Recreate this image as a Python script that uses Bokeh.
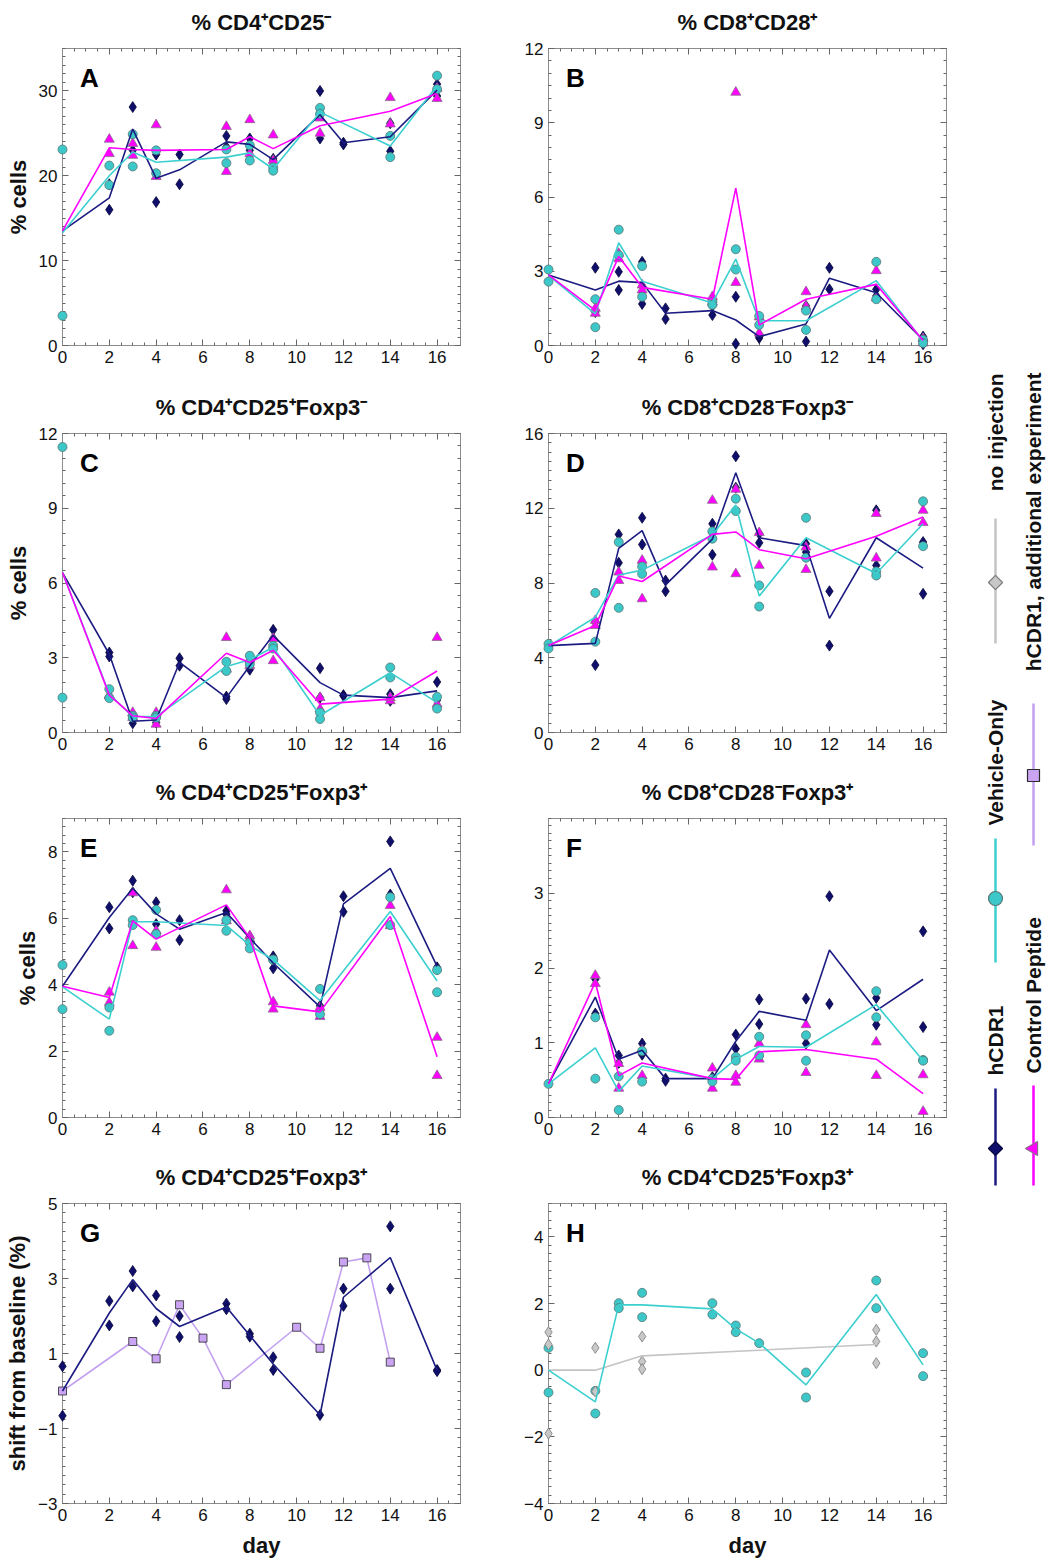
from math import pi
from bokeh.plotting import figure
from bokeh.models import Range1d, LinearAxis, FixedTicker, Label
from bokeh.layouts import row, column
from bokeh.embed import file_html
from bokeh.resources import INLINE
from bokeh.core.properties import value

N = None
DAY_TICKS = [0, 2, 4, 6, 8, 10, 12, 14, 16]
DAYS_H = [0, 2, 3, 4, 5, 7, 8, 9, 11, 12, 14, 16]   # hCDR1 sampling days
DAYS_CV = [0, 2, 3, 4, 7, 8, 9, 11, 14, 16]         # Control Peptide / Vehicle days

# ---------------- Panel A: % CD4+CD25- ----------------
A_h_r1 = [N, 16.0, 28.1, 22.5, 22.5, 24.7, 24.4, 22.0, 30.0, 23.9, 26.2, 30.8]
A_h_r2 = [N, 19.0, 23.0, 16.9, 19.0, 23.4, 23.0, 21.8, 24.4, 23.7, 22.9, 29.4]
A_h_mean = [13.5, 17.4, 25.5, 19.7, 20.7, 24.0, 23.7, 21.9, 27.2, 23.9, 24.6, 30.1]
A_c_r1 = [N, 24.3, 23.8, 26.0, 25.8, 26.6, 24.8, 25.0, 29.2, 29.1]
A_c_r2 = [N, 22.6, 22.4, 19.9, 20.5, 22.6, 21.8, 26.8, 26.1, 30.3]
A_c_mean = [13.5, 23.3, 23.1, 23.0, 23.1, 24.6, 23.2, 25.9, 27.6, 29.7]
A_v_r1 = [23.1, 21.2, 24.9, 23.0, 23.1, 23.6, 21.0, 28.0, 24.7, 31.8]
A_v_r2 = [3.5, 18.9, 21.1, 20.3, 21.5, 21.8, 20.6, 27.3, 22.2, 30.2]
A_v_mean = [13.3, 20.0, 22.8, 21.6, 22.2, 22.7, 20.8, 27.5, 23.5, 30.6]

# ---------------- Panel B: % CD8+CD28+ ----------------
B_h_r1 = [N, 3.14, 2.98, 3.38, 1.50, 1.23, 1.97, 0.30, 0.16, 3.14, 2.27, 0.36]
B_h_r2 = [N, 1.35, 2.24, 1.68, 1.07, 1.60, 0.07, 0.36, 1.60, 2.27, 2.00, 0.05]
B_h_mean = [2.85, 2.24, 2.60, 2.54, 1.30, 1.41, 1.03, 0.36, 0.87, 2.72, 2.13, 0.22]
B_c_r1 = [N, 1.50, 3.72, 2.44, 1.97, 10.23, 0.50, 2.17, 3.02, 0.10]
B_c_r2 = [N, 1.30, 3.50, 2.24, 1.75, 2.54, 1.15, 1.57, 1.92, 0.28]
B_c_mean = [2.85, 1.42, 3.60, 2.35, 1.87, 6.36, 0.83, 1.87, 2.47, 0.20]
B_v_r1 = [3.07, 1.87, 4.68, 3.21, 1.77, 3.89, 1.19, 1.41, 3.38, 0.23]
B_v_r2 = [2.58, 0.74, 3.65, 1.97, 1.64, 3.07, 0.83, 0.63, 1.87, 0.10]
B_v_mean = [2.83, 1.28, 4.15, 2.60, 1.72, 3.49, 1.00, 1.00, 2.62, 0.18]

# ---------------- Panel C: % CD4+CD25+Foxp3- ----------------
C_h_r1 = [N, 3.21, 0.37, 0.60, 2.98, 1.44, 2.52, 4.12, 2.58, 1.50, 1.54, 2.03]
C_h_r2 = [N, 3.05, 0.54, 0.40, 2.68, 1.34, 2.85, 3.77, 1.40, 1.47, 1.27, 1.30]
C_h_mean = [6.42, 3.14, 0.45, 0.50, 2.81, 1.40, 2.68, 3.90, 2.00, 1.50, 1.40, 1.67]
C_c_r1 = [N, 1.47, 0.80, 0.80, 3.81, 2.94, 3.77, 1.40, 1.27, 3.81]
C_c_r2 = [N, 1.50, 0.60, 0.33, 2.54, 2.68, 2.88, 0.94, 1.40, 1.14]
C_c_mean = [6.42, 1.50, 0.67, 0.56, 3.18, 2.81, 3.30, 1.14, 1.34, 2.47]
C_v_r1 = [11.46, 1.74, 0.67, 0.67, 2.84, 3.08, 3.48, 0.80, 2.61, 1.43]
C_v_r2 = [1.40, 1.38, 0.60, 0.60, 2.47, 2.74, 3.37, 0.54, 2.21, 0.96]
C_v_mean = [6.42, 1.54, 0.64, 0.64, 2.65, 2.92, 3.42, 0.68, 2.40, 1.20]

# ---------------- Panel D: % CD8+CD28-Foxp3- ----------------
D_h_r1 = [N, 3.61, 10.60, 11.49, 8.13, 11.17, 14.78, 10.64, 10.10, 7.56, 11.89, 10.19]
D_h_r2 = [N, 5.93, 9.08, 10.06, 7.56, 9.51, 13.10, 10.15, 9.65, 4.65, 8.94, 7.42]
D_h_mean = [4.65, 4.77, 9.85, 10.80, 7.90, 10.35, 13.90, 10.42, 10.00, 6.11, 10.42, 8.80]
D_c_r1 = [N, 5.99, 8.58, 9.21, 12.42, 13.01, 10.69, 9.92, 11.71, 11.89]
D_c_r2 = [N, 5.72, 8.13, 7.15, 8.85, 8.49, 8.94, 8.72, 9.33, 11.23]
D_c_mean = [4.65, 5.72, 8.37, 8.08, 10.60, 10.73, 9.78, 9.30, 10.50, 11.53]
D_v_r1 = [4.74, 7.47, 10.19, 8.88, 10.76, 12.51, 7.87, 11.49, 8.62, 12.37]
D_v_r2 = [4.50, 4.86, 6.67, 8.49, 10.37, 11.85, 6.74, 9.35, 8.40, 9.97]
D_v_mean = [4.62, 6.17, 8.43, 8.69, 10.57, 12.18, 7.30, 10.42, 8.51, 11.17]

# ---------------- Panel E: % CD4+CD25+Foxp3+ ----------------
E_h_r1 = [N, 6.33, 7.13, 6.48, 5.94, 6.22, 5.44, 4.85, 3.36, 6.66, 8.31, 4.52]
E_h_r2 = [N, 5.69, 6.78, 5.82, 5.34, 6.12, 5.37, 4.49, 3.26, 6.19, 6.71, 4.47]
E_h_mean = [3.95, 6.02, 6.90, 6.13, 5.67, 6.17, 5.40, 4.65, 3.33, 6.43, 7.50, 4.55]
E_c_r1 = [N, 3.77, 6.76, 5.12, 6.85, 5.47, 3.48, 3.31, 6.38, 2.41]
E_c_r2 = [N, 3.46, 5.17, 5.62, 5.92, 5.37, 3.26, 3.04, 5.77, 1.26]
E_c_mean = [3.95, 3.61, 5.92, 5.37, 6.40, 5.40, 3.36, 3.18, 6.05, 1.83]
E_v_r1 = [4.59, 3.31, 5.94, 6.25, 5.94, 5.27, 4.75, 3.87, 6.63, 4.44]
E_v_r2 = [3.26, 2.61, 5.79, 5.52, 5.62, 5.09, 4.75, 3.11, 5.79, 3.77]
E_v_mean = [3.93, 2.96, 5.89, 5.89, 5.78, 5.18, 4.75, 3.52, 6.20, 4.11]

# ---------------- Panel F: % CD8+CD28-Foxp3+ ----------------
F_h_r1 = [N, 1.85, 0.83, 0.99, 0.52, 0.54, 1.11, 1.58, 1.59, 2.96, 1.60, 2.49]
F_h_r2 = [N, 1.39, 0.73, 0.84, 0.49, 0.50, 0.92, 1.25, 0.99, 1.52, 1.24, 1.21]
F_h_mean = [0.45, 1.61, 0.78, 0.90, 0.52, 0.52, 1.02, 1.42, 1.30, 2.24, 1.43, 1.85]
F_c_r1 = [N, 1.90, 0.72, 0.90, 0.66, 0.56, 0.99, 1.24, 1.01, 0.57]
F_c_r2 = [N, 1.79, 0.39, 0.56, 0.39, 0.47, 0.78, 0.60, 0.56, 0.08]
F_c_mean = [0.45, 1.81, 0.56, 0.73, 0.52, 0.51, 0.88, 0.91, 0.78, 0.32]
F_v_r1 = [0.45, 1.34, 0.55, 0.89, 0.52, 0.81, 1.08, 1.10, 1.69, 0.77]
F_v_r2 = [N, 0.52, 0.10, 0.48, 0.48, 0.76, 0.83, 0.76, 1.34, 0.76]
F_v_mean = [0.45, 0.93, 0.35, 0.69, 0.52, 0.78, 0.95, 0.94, 1.51, 0.76]

# ---------------- Panel G: shift from baseline, hCDR1 ----------------
G_h_r1 = [0.66, 2.40, 3.20, 2.55, 2.00, 2.33, 1.53, 0.90, -0.64, 2.73, 4.39, 0.56]
G_h_r2 = [-0.66, 1.75, 2.79, 1.86, 1.44, 2.18, 1.45, 0.56, N, 2.27, 2.73, 0.53]
G_h_mean = [0.00, 2.08, 2.97, 2.20, 1.72, 2.24, 1.48, 0.72, -0.64, 2.50, 3.56, 0.55]
G_add_days = [0, 3, 4, 5, 6, 7, 10, 11, 12, 13, 14]
G_add_vals = [0.00, 1.32, 0.86, 2.30, 1.41, 0.17, 1.70, 1.14, 3.44, 3.55, 0.77]

# ---------------- Panel H: shift from baseline, Vehicle / no injection ----------------
H_v_r1 = [0.67, -0.62, 2.01, 2.32, 2.01, 1.34, 0.81, -0.07, 2.69, 0.51]
H_v_r2 = [-0.67, -1.30, 1.86, 1.59, 1.67, 1.14, N, -0.82, 1.86, -0.18]
H_v_mean = [0.00, -0.95, 1.96, 1.96, 1.84, 1.24, 0.81, -0.44, 2.27, 0.16]
H_n_days = [0, 2, 4, 14]
H_n_r1 = [1.14, 0.67, 1.01, 1.21]
H_n_r2 = [0.77, -0.64, 0.26, 0.86]
H_n_r3 = [-1.90, N, 0.03, 0.21]
H_n_mean = [0.00, 0.00, 0.43, 0.77]

SERIES_NAMES = ["hCDR1", "Vehicle-Only", "no injection",
                "Control Peptide", "hCDR1, additional experiment"]

# ---------------- style ----------------
FONT = "Liberation Sans"
FRAME = "#8c8c8c"
TICK = "#666666"
STY = {
    "h": dict(marker="diamond", size=11, fill="#0f0f6b", edge="#06063c", line="#1b1b82"),
    "c": dict(marker="triangle", size=10, fill="#ff00ff", edge="#8a6a8a", line="#ff00ff"),
    "v": dict(marker="circle", size=9, fill="#3cc8c8", edge="#577575", line="#3ccfcf"),
    "a": dict(marker="square", size=8, fill="#caa4f2", edge="#2a2a2a", line="#c3a1f0"),
    "n": dict(marker="diamond", size=11, fill="#c8c8c8", edge="#7a7a7a", line="#c4c4c4"),
}


def frange(lo, hi, step):
    n = int(round((hi - lo) / step))
    return [round(lo + i * step, 6) for i in range(n + 1)]


def style_axis(ax, ticker, labels):
    ax.ticker = ticker
    ax.axis_line_color = FRAME
    ax.major_tick_line_color = TICK
    ax.minor_tick_line_color = TICK
    ax.major_tick_in = 6
    ax.major_tick_out = 0
    ax.minor_tick_in = 3
    ax.minor_tick_out = 0
    ax.major_label_text_font = FONT
    ax.major_label_text_color = "#111111"
    if labels:
        ax.major_label_text_font_size = "17px"
        ax.major_label_standoff = 5
    else:
        ax.major_label_text_font_size = "0px"
        ax.major_label_standoff = 0
        ax.major_label_overrides = {t: "" for t in ticker.ticks}


LB_L, LB_R = 62, 70      # left borders of left / right column figures
RB_L, RB_R = 18, 4       # right borders
FRAME_W = 398
PANEL_TOP = 8            # border kept inside the panel figure above its frame
TITLE_RISE = 18          # title anchor height above the strip's bottom edge


def make_fig(letter, title, y0, y1, ymajor, ystep, ylabel, xlabel, left_col, top, fh, bottom):
    lb = LB_L if left_col else LB_R
    rb = RB_L if left_col else RB_R
    # title strip (its own small figure so the title can sit freely above the frame)
    hs = top - PANEL_TOP
    strip = figure(width=lb + FRAME_W + rb, height=hs, x_range=Range1d(0, 17), y_range=Range1d(0, hs),
                   output_backend="svg", toolbar_location=None,
                   min_border_left=lb, min_border_right=rb, min_border_top=0, min_border_bottom=0,
                   x_axis_location=None, y_axis_location=None)
    strip.grid.visible = False
    strip.outline_line_color = None
    strip.text([8.5], [TITLE_RISE], text=[title], text_font=value(FONT), text_font_size="22px",
               text_font_style="bold", text_color="#111111", text_align="center",
               text_baseline="middle")

    p = figure(width=lb + FRAME_W + rb, height=PANEL_TOP + fh + bottom,
               x_range=Range1d(0, 17), y_range=Range1d(y0, y1),
               output_backend="svg", toolbar_location=None,
               min_border_left=lb, min_border_right=rb,
               min_border_top=PANEL_TOP, min_border_bottom=bottom)
    p.grid.visible = False
    p.outline_line_color = FRAME
    p.background_fill_color = "white"
    xt = FixedTicker(ticks=DAY_TICKS, minor_ticks=frange(0, 17, 0.5))
    yt = FixedTicker(ticks=ymajor, minor_ticks=frange(y0, y1, ystep))
    style_axis(p.xaxis[0], xt, True)
    style_axis(p.yaxis[0], yt, True)
    for ax, lab, std in ((p.xaxis[0], xlabel, 9), (p.yaxis[0], ylabel, 5)):
        if lab:
            ax.axis_label = lab
            ax.axis_label_text_font = FONT
            ax.axis_label_text_font_size = "22px"
            ax.axis_label_text_font_style = "bold"
            ax.axis_label_text_color = "#111111"
            ax.axis_label_standoff = std
    top_ax = LinearAxis()
    style_axis(top_ax, FixedTicker(ticks=DAY_TICKS, minor_ticks=frange(0, 17, 0.5)), False)
    p.add_layout(top_ax, "above")
    right_ax = LinearAxis()
    style_axis(right_ax, FixedTicker(ticks=ymajor, minor_ticks=frange(y0, y1, ystep)), False)
    p.add_layout(right_ax, "right")
    p.add_layout(Label(x=0.75, y=y1 - 14.0 / fh * (y1 - y0), text=letter,
                       text_font=FONT, text_font_size="26px", text_font_style="bold",
                       text_color="#000000", text_align="left", text_baseline="top"))
    return strip, p


def points(days, reps):
    xs, ys = [], []
    for rep in reps:
        for d, v in zip(days, rep):
            if v is not None:
                xs.append(d)
                ys.append(v)
    return xs, ys


def draw_markers(p, key, days, reps):
    s = STY[key]
    xs, ys = points(days, reps)
    r = p.scatter(xs, ys, marker=s["marker"], size=s["size"], fill_color=s["fill"],
                  line_color=s["edge"], line_width=0.8)
    r.level = "overlay"


def draw_line(p, key, days, means, width=1.6):
    r = p.line(days, means, line_color=STY[key]["line"], line_width=width)
    r.level = "overlay"


def three_group(p, h, c, v):
    draw_markers(p, "h", DAYS_H, h[:2])
    draw_markers(p, "c", DAYS_CV, c[:2])
    draw_markers(p, "v", DAYS_CV, v[:2])
    draw_line(p, "h", DAYS_H, h[2])
    draw_line(p, "v", DAYS_CV, v[2])
    draw_line(p, "c", DAYS_CV, c[2])


SUP_P, SUP_M = "\u207a", "\u207b"

# row geometry: (top border incl. title, frame height, bottom border)
R1 = (48, 297, 40)
R2 = (48, 299, 40)
R3 = (46, 299, 40)
R4 = (46, 300, 58)

tA, pA = make_fig("A", "% CD4" + SUP_P + "CD25" + SUP_M, 0, 35, [0, 10, 20, 30], 1, "% cells", None, True, *R1)
three_group(pA, (A_h_r1, A_h_r2, A_h_mean), (A_c_r1, A_c_r2, A_c_mean), (A_v_r1, A_v_r2, A_v_mean))

tB, pB = make_fig("B", "% CD8" + SUP_P + "CD28" + SUP_P, 0, 12, [0, 3, 6, 9, 12], 0.5, None, None, False, *R1)
three_group(pB, (B_h_r1, B_h_r2, B_h_mean), (B_c_r1, B_c_r2, B_c_mean), (B_v_r1, B_v_r2, B_v_mean))

tC, pC = make_fig("C", "% CD4" + SUP_P + "CD25" + SUP_P + "Foxp3" + SUP_M, 0, 12, [0, 3, 6, 9, 12], 0.5, "% cells", None, True, *R2)
three_group(pC, (C_h_r1, C_h_r2, C_h_mean), (C_c_r1, C_c_r2, C_c_mean), (C_v_r1, C_v_r2, C_v_mean))

tD, pD = make_fig("D", "% CD8" + SUP_P + "CD28" + SUP_M + "Foxp3" + SUP_M, 0, 16, [0, 4, 8, 12, 16], 0.5, None, None, False, *R2)
three_group(pD, (D_h_r1, D_h_r2, D_h_mean), (D_c_r1, D_c_r2, D_c_mean), (D_v_r1, D_v_r2, D_v_mean))

tE, pE = make_fig("E", "% CD4" + SUP_P + "CD25" + SUP_P + "Foxp3" + SUP_P, 0, 9, [0, 2, 4, 6, 8], 0.25, "% cells", None, True, *R3)
three_group(pE, (E_h_r1, E_h_r2, E_h_mean), (E_c_r1, E_c_r2, E_c_mean), (E_v_r1, E_v_r2, E_v_mean))

tF, pF = make_fig("F", "% CD8" + SUP_P + "CD28" + SUP_M + "Foxp3" + SUP_P, 0, 4, [0, 1, 2, 3], 0.1, None, None, False, *R3)
three_group(pF, (F_h_r1, F_h_r2, F_h_mean), (F_c_r1, F_c_r2, F_c_mean), (F_v_r1, F_v_r2, F_v_mean))

tG, pG = make_fig("G", "% CD4" + SUP_P + "CD25" + SUP_P + "Foxp3" + SUP_P, -3, 5, [-3, -1, 1, 3, 5], 0.25,
                  "shift from baseline (%)", "day", True, *R4)
draw_markers(pG, "h", DAYS_H, [G_h_r1, G_h_r2])
draw_line(pG, "a", G_add_days, G_add_vals)
draw_markers(pG, "a", G_add_days, [G_add_vals])
draw_line(pG, "h", DAYS_H, G_h_mean)

tH, pH = make_fig("H", "% CD4" + SUP_P + "CD25" + SUP_P + "Foxp3" + SUP_P, -4, 5, [-4, -2, 0, 2, 4], 0.25,
                  None, "day", False, *R4)
draw_markers(pH, "v", DAYS_CV, [H_v_r1, H_v_r2])
draw_markers(pH, "n", H_n_days, [H_n_r1, H_n_r2, H_n_r3])
draw_line(pH, "n", H_n_days, H_n_mean)
draw_line(pH, "v", DAYS_CV, H_v_mean)

# ---------------- rotated legend strip (page pixel coordinates) ----------------
LEFT_W = LB_L + FRAME_W + RB_L
RIGHT_W = LB_R + FRAME_W + RB_R
TOTAL_H = sum(R1) + sum(R2) + sum(R3) + sum(R4)
LEG_X0 = LEFT_W + RIGHT_W
LEG_W = 1046 - LEG_X0
leg = figure(width=LEG_W, height=TOTAL_H, x_range=Range1d(LEG_X0, LEG_X0 + LEG_W),
             y_range=Range1d(TOTAL_H, 0), output_backend="svg", toolbar_location=None,
             min_border=0, x_axis_location=None, y_axis_location=None)
leg.grid.visible = False
leg.outline_line_color = None

# (series key, column x, line start, line end, marker y, text anchor y, text align)
LEG_LAYOUT = [
    ("h", 995, 1088, 1185, 1148, 1075, "left"),
    ("v", 995, 838, 962, 898, 825, "left"),
    ("n", 995, 518, 643, 582, 373, "right"),
    ("c", 1033, 1085, 1185, 1148, 1073, "left"),
    ("a", 1033, 703, 845, 775, 372, "right"),
]
LEG_MARK = {"h": ("square", 10, pi / 4), "n": ("square", 10, pi / 4), "v": ("circle", 14, 0),
            "c": ("triangle", 14, pi / 2), "a": ("square", 12, 0)}
for (key, lx, l0, l1, my, ty, al), name in zip(LEG_LAYOUT, SERIES_NAMES):
    s = STY[key]
    leg.line([lx, lx], [l0, l1], line_color=s["line"], line_width=2.5)
    mk, sz, ang = LEG_MARK[key]
    leg.scatter([lx], [my], marker=mk, size=sz, angle=ang, fill_color=s["fill"],
                line_color=s["edge"], line_width=1.2)
    leg.text([lx], [ty], text=[name], angle=pi / 2, text_font=value(FONT),
             text_font_size="21px", text_font_style="bold", text_color="#111111",
             text_align=al, text_baseline="middle")

left_col = column(tA, pA, tC, pC, tE, pE, tG, pG)
right_col = column(tB, pB, tD, pD, tF, pF, tH, pH)
layout = row(left_col, right_col, leg)
open("out.html", "w").write(file_html(layout, INLINE))
